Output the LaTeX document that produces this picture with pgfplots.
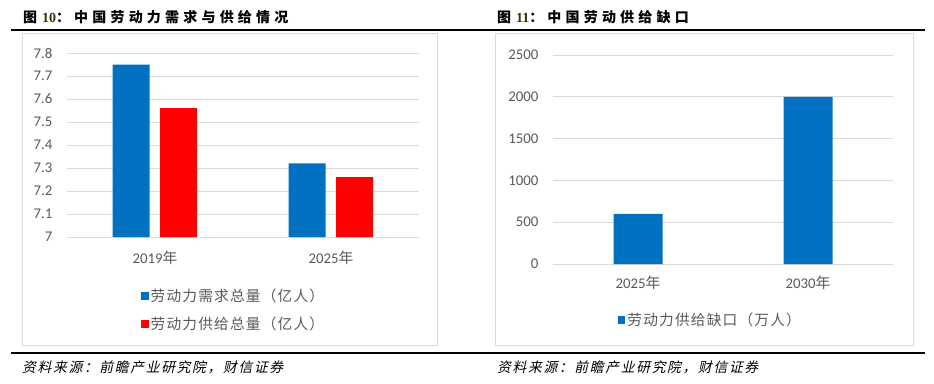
\documentclass[border=0pt]{standalone}
\usepackage{pgfplots}
\pgfplotsset{compat=1.18}
\usepackage{fontspec}
\setmainfont{Carlito}
\newfontfamily\cjk{Noto Sans CJK SC}
\newfontfamily\cjkl{Noto Sans CJK SC}[LetterSpace=8]
\newfontfamily\cjkt{Noto Sans CJK SC}[LetterSpace=30]
\newfontfamily\cjki{Noto Sans CJK SC}[FakeSlant=0.22,LetterSpace=12]
\newfontfamily\serifb{Liberation Serif}
\definecolor{barblue}{HTML}{0070C0}
\definecolor{barred}{HTML}{FF0000}
\definecolor{txtgrey}{HTML}{595959}
\definecolor{gridgrey}{HTML}{D9D9D9}
\definecolor{numbrown}{HTML}{3E2E08}
\pgfplotsset{
  sqlegend/.style={legend image code/.code={\fill[##1] (0pt,-3.8pt) rectangle (7.6pt,3.8pt);}},
  common/.style={
    scale only axis,
    axis line style={draw=none},
    major tick length=0pt,
    ymajorgrids,
    grid style={draw=gridgrey,line width=0.9pt},
    ybar,
    /pgf/number format/assume math mode=true,
    /pgf/number format/1000 sep={},
    scaled y ticks=false,
    tick label style={font=\fontsize{14.8}{16}\selectfont,text=txtgrey},
    yticklabel style={xshift=-11pt},
    legend style={draw=none,fill=none,font=\fontsize{14.7}{16}\selectfont\cjkl,text=txtgrey,
      row sep=10pt,inner sep=0pt,
      /tikz/every even column/.append style={column sep=4pt}},
    legend cell align=left,
    xmin=-0.5,xmax=1.5,xtick={0,1},
  }
}
\begin{document}
\begin{tikzpicture}
\useasboundingbox (0,0) rectangle (934pt,-383pt);
% frames and rules
\draw[gridgrey,line width=1pt] (22pt,-33pt) rectangle (437pt,-345pt);
\draw[gridgrey,line width=1pt] (495pt,-33pt) rectangle (913pt,-345pt);
\draw[black,line width=2pt] (11pt,-30pt) -- (925pt,-30pt);
\draw[black,line width=2pt] (11pt,-353pt) -- (925pt,-353pt);
% titles
\node[anchor=west,inner sep=0pt] at (23pt,-17.5pt) {\fontsize{14}{16}\selectfont{\cjk\bfseries 图}\hspace{5pt}{\serifb\bfseries\color{numbrown}10}{\cjk\bfseries ：}\hspace{4pt}{\cjkt\bfseries 中国劳动力需求与供给情况}};
\node[anchor=west,inner sep=0pt] at (497pt,-17.5pt) {\fontsize{14}{16}\selectfont{\cjk\bfseries 图}\hspace{5pt}{\serifb\bfseries\color{numbrown}11}{\cjk\bfseries ：}\hspace{4pt}{\cjkt\bfseries 中国劳动供给缺口}};
% sources
\node[anchor=west,inner sep=0pt] at (22pt,-367pt) {\fontsize{13.8}{15}\selectfont\cjki 资料来源：前瞻产业研究院，财信证券};
\node[anchor=west,inner sep=0pt] at (497pt,-367pt) {\fontsize{13.8}{15}\selectfont\cjki 资料来源：前瞻产业研究院，财信证券};
% left chart
\begin{axis}[common,
  at={(67pt,-237pt)},anchor=south west,
  width=352pt,height=184pt,
  ymin=7,ymax=7.8,
  ytick={7,7.1,7.2,7.3,7.4,7.5,7.6,7.7,7.8},
  yticklabels={7,7.1,7.2,7.3,7.4,7.5,7.6,7.7,7.8},
  xticklabels={2019{\cjk 年},2025{\cjk 年}},
  xticklabel style={yshift=-10pt},
  bar width=37pt,
  legend style={at={(0.21,-0.27)},anchor=north west},
]
\addplot[fill=barblue,draw=none,bar shift=-24pt,sqlegend] coordinates {(0,7.75) (1,7.32)};
\addplot[fill=barred,draw=none,bar shift=23.5pt,sqlegend] coordinates {(0,7.56) (1,7.26)};
\legend{劳动力需求总量（亿人）,劳动力供给总量（亿人）}
\end{axis}
% right chart
\begin{axis}[common,
  at={(553pt,-264pt)},anchor=south west,
  width=340pt,height=209pt,
  ymin=0,ymax=2500,
  ytick={0,500,1000,1500,2000,2500},
  xticklabels={2025{\cjk 年},2030{\cjk 年}},
  xticklabel style={yshift=-8pt},
  bar width=49pt,
  legend style={at={(0.19,-0.225)},anchor=north west},
]
\addplot[fill=barblue,draw=none,bar shift=0pt,sqlegend] coordinates {(0,600) (1,2000)};
\legend{劳动力供给缺口（万人）}
\end{axis}
\end{tikzpicture}
\end{document}
